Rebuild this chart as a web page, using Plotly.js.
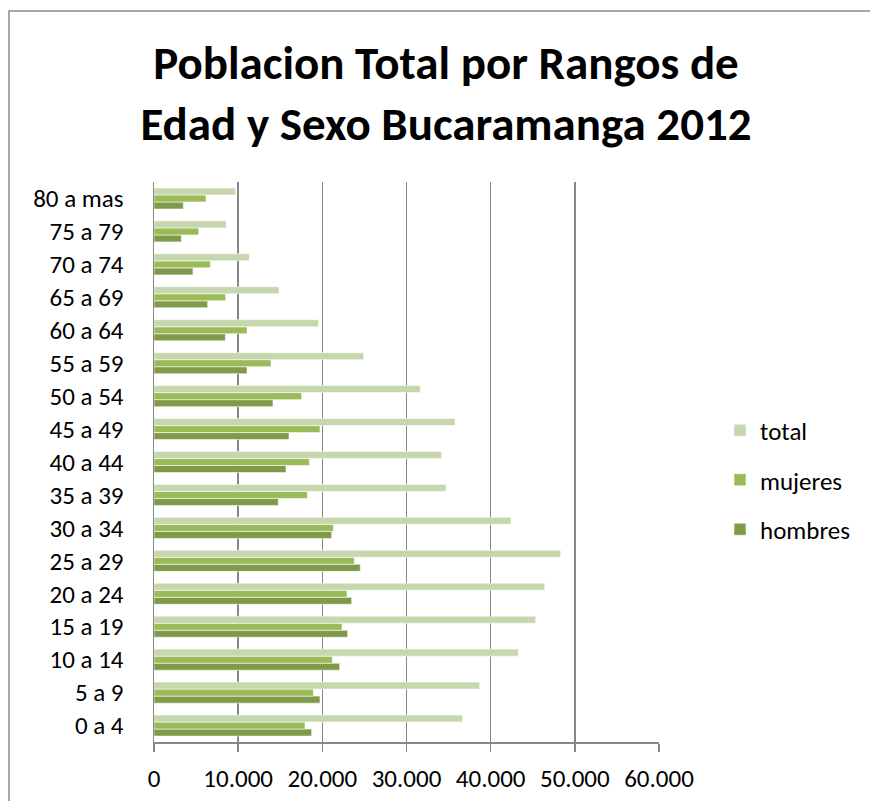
<!DOCTYPE html>
<html>
<head>
<meta charset="utf-8">
<script src="https://cdn.plot.ly/plotly-3.0.1.min.js"></script>
<style>
  html, body { margin: 0; padding: 0; background: #ffffff; }
  #chart { width: 870px; height: 801px; }
</style>
</head>
<body>
<div id="chart"></div>
<script>
const categories = ["0 a 4", "5 a 9", "10 a 14", "15 a 19", "20 a 24", "25 a 29", "30 a 34", "35 a 39",
  "40 a 44", "45 a 49", "50 a 54", "55 a 59", "60 a 64", "65 a 69", "70 a 74", "75 a 79", "80 a mas"];
const total =   [36670, 38690, 43290, 45350, 46420, 48320, 42420, 34690, 34180, 35760, 31640, 24910, 19560, 14850, 11330, 8590, 9700];
const mujeres = [17940, 18930, 21190, 22340, 22930, 23800, 21310, 18220, 18460, 19720, 17540, 13900, 11050, 8510, 6690, 5310, 6180];
const hombres = [18730, 19720, 22060, 23010, 23490, 24510, 21110, 14770, 15680, 16040, 14140, 11050, 8480, 6380, 4630, 3250, 3490];
const seriesNames = ["hombres", "mujeres", "total"];
const tickValues = [0, 10000, 20000, 30000, 40000, 50000, 60000];

const FONT = "Carlito, Calibri, Lato, 'Open Sans', sans-serif";
const colors = { total: "#c6d7ad", mujeres: "#9bbb59", hombres: "#7f9a48" };
const seriesData = { total: total, mujeres: mujeres, hombres: hombres };

const traces = seriesNames.map((name, i) => ({
  type: "bar",
  orientation: "h",
  name: name,
  y: categories,
  x: seriesData[name],
  legendgroup: "g" + i,
  legendrank: seriesNames.length - i,
  marker: { color: colors[name], line: { color: "rgba(255,255,255,0.55)", width: 1 } },
  hoverinfo: "x+y+name"
}));

// frame (top and left edges of chart area) in paper coords
const L = 154, R = 659, T = 182, B = 742;
const px2x = p => (p - L) / (R - L);
const py2y = p => (B - p) / (B - T);

const layout = {
  width: 870,
  height: 801,
  margin: { l: L, r: 870 - R, t: T, b: 801 - B, pad: 0 },
  paper_bgcolor: "#ffffff",
  plot_bgcolor: "#ffffff",
  separators: ",.",
  font: { family: FONT, color: "#000000", size: 25 },
  title: {
    text: "<b>Poblacion Total por Rangos de<br>Edad y Sexo Bucaramanga 2012</b>",
    font: { family: FONT, size: 47, color: "#000000" },
    x: 446 / 870, xanchor: "center", xref: "container",
    y: 1 - 79 / 801, yanchor: "top", yref: "container"
  },
  barmode: "group",
  bargap: 0.36,
  bargroupgap: 0,
  showlegend: true,
  legend: {
    x: px2x(720), xanchor: "left",
    y: py2y(480), yanchor: "middle",
    traceorder: "grouped",
    tracegroupgap: 14,
    font: { family: FONT, size: 25, color: "#000000" },
    bgcolor: "rgba(0,0,0,0)"
  },
  xaxis: {
    range: [0, 60000],
    tickvals: tickValues,
    tickformat: ",d",
    showgrid: true,
    gridcolor: "#878787",
    gridwidth: 1.5,
    zeroline: false,
    showline: true,
    linecolor: "#878787",
    linewidth: 1.5,
    ticks: "outside",
    ticklen: 8,
    tickwidth: 1.5,
    tickcolor: "#878787",
    ticklabelstandoff: 5,
    tickfont: { family: FONT, size: 25, color: "#000000" },
    fixedrange: true
  },
  yaxis: {
    type: "category",
    categoryorder: "array",
    categoryarray: categories,
    showgrid: false,
    zeroline: false,
    showline: true,
    linecolor: "#878787",
    linewidth: 1.5,
    ticks: "",
    ticklabelstandoff: 24,
    tickfont: { family: FONT, size: 25, color: "#000000" },
    fixedrange: true
  },
  shapes: [{
    type: "rect", xref: "paper", yref: "paper", layer: "below",
    x0: px2x(9), x1: px2x(900), y0: py2y(830), y1: py2y(11),
    line: { color: "#8c8c8c", width: 1.5 }, fillcolor: "rgba(0,0,0,0)"
  }]
};

Plotly.newPlot("chart", traces, layout, { displayModeBar: false, staticPlot: true });
</script>
</body>
</html>
